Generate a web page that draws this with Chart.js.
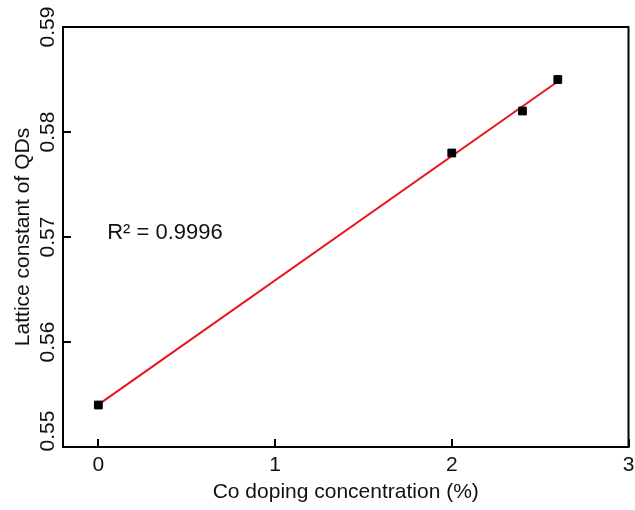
<!DOCTYPE html>
<html>
<head>
<meta charset="utf-8">
<script src="https://cdn.jsdelivr.net/npm/chart.js@4/dist/chart.umd.min.js"></script>
<style>
  html, body { margin: 0; padding: 0; background: #fff; }
  #wrap { width: 635px; height: 510px; }
</style>
</head>
<body>
<div id="wrap"><canvas id="myChart"></canvas></div>
<script>
var doping = [0, 2, 2.4, 2.6];
var lattice = [0.554, 0.578, 0.582, 0.585];
var xTicks = [0, 1, 2, 3];
var yTicks = [0.55, 0.56, 0.57, 0.58, 0.59];
var r2Label = "R\u00B2 = 0.9996";

// least squares fit for the red line
var n = doping.length, sx = 0, sy = 0, sxx = 0, sxy = 0;
for (var i = 0; i < n; i++) {
  sx += doping[i]; sy += lattice[i];
  sxx += doping[i] * doping[i]; sxy += doping[i] * lattice[i];
}
var slope = (n * sxy - sx * sy) / (n * sxx - sx * sx);
var icpt = (sy - slope * sx) / n;
var xFirst = doping[0], xLast = doping[n - 1];
var fitLine = [
  { x: xFirst, y: icpt + slope * xFirst },
  { x: xLast, y: icpt + slope * xLast },
];

var FONT = "'Liberation Sans', Arial, sans-serif";

var framePlugin = {
  id: "frame",
  afterDraw: function (chart) {
    var c = chart.ctx, a = chart.chartArea;
    var xs = chart.scales.x, ys = chart.scales.y;
    c.save();
    c.strokeStyle = "#000";
    c.lineWidth = 2;
    c.strokeRect(a.left, a.top, a.right - a.left, a.bottom - a.top);
    // inward ticks
    c.beginPath();
    xTicks.forEach(function (v) {
      var px = Math.round(xs.getPixelForValue(v));
      c.moveTo(px, a.bottom);
      c.lineTo(px, a.bottom - 8);
    });
    yTicks.forEach(function (v) {
      var py = Math.round(ys.getPixelForValue(v));
      c.moveTo(a.left, py);
      c.lineTo(a.left + 8, py);
    });
    c.stroke();
    // rotated y tick labels (bottom one kept clear of the x labels)
    c.fillStyle = "#111";
    c.font = "21px " + FONT;
    c.textAlign = "center";
    c.textBaseline = "middle";
    yTicks.forEach(function (v) {
      var py = Math.min(ys.getPixelForValue(v), a.bottom - 16);
      c.save();
      c.translate(48, py);
      c.rotate(-Math.PI / 2);
      c.fillText(v.toFixed(2), 0, 0);
      c.restore();
    });
    // R^2 note
    c.font = "22px " + FONT;
    c.textAlign = "left";
    c.fillText(r2Label, xs.getPixelForValue(0.05), ys.getPixelForValue(0.5704));
    c.restore();
  },
};

var ctx = document.getElementById("myChart").getContext("2d");
var myChart = new Chart(ctx, {
  type: "scatter",
  data: {
    datasets: [
      {
        label: "Fit",
        type: "line",
        data: fitLine,
        borderColor: "#e8161b",
        borderWidth: 2,
        pointRadius: 0,
        fill: false,
        order: 2,
      },
      {
        label: "Lattice constant",
        data: doping.map(function (d, i) { return { x: d, y: lattice[i] }; }),
        pointStyle: "rect",
        pointRadius: 5.5,
        backgroundColor: "#000",
        borderColor: "#000",
        borderWidth: 1,
        order: 1,
      },
    ],
  },
  options: {
    animation: false,
    responsive: true,
    maintainAspectRatio: false,
    layout: { padding: { top: 27, right: 6, left: 0, bottom: 0 } },
    plugins: {
      legend: { display: false },
      tooltip: { enabled: false },
    },
    scales: {
      x: {
        type: "linear",
        min: -0.2,
        max: 3,
        afterBuildTicks: function (scale) {
          scale.ticks = xTicks.map(function (v) { return { value: v }; });
        },
        afterFit: function (scale) {
          scale.height = 63;
          scale.paddingLeft = 0;
          scale.paddingRight = 0;
        },
        grid: { display: false },
        border: { display: false },
        ticks: {
          color: "#111",
          padding: -2,
          maxRotation: 0,
          font: { family: FONT, size: 21 },
        },
        title: {
          display: true,
          text: "Co doping concentration (%)",
          color: "#111",
          padding: { top: 0, bottom: 5 },
          font: { family: FONT, size: 21 },
        },
      },
      y: {
        type: "linear",
        min: 0.55,
        max: 0.59,
        afterFit: function (scale) { scale.width = 63; },
        grid: { display: false },
        border: { display: false },
        ticks: { display: false },
        title: {
          display: true,
          text: "Lattice constant of QDs",
          color: "#111",
          padding: { top: 11, bottom: 0 },
          font: { family: FONT, size: 21 },
        },
      },
    },
  },
  plugins: [framePlugin],
});
</script>
</body>
</html>
